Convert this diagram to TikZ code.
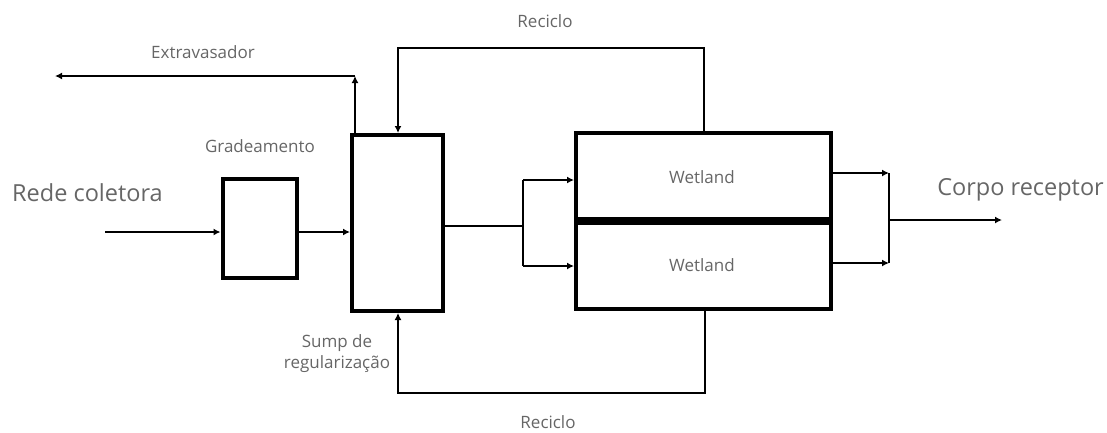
\documentclass[tikz,border=0pt]{standalone}
\usepackage{fontspec}
\setmainfont{Open Sans}
\usetikzlibrary{arrows.meta}
\begin{document}
\begin{tikzpicture}[x=1pt,y=-1pt,
  box/.style={draw,line width=4pt,minimum width=0pt,minimum height=0pt,inner sep=0pt},
  conn/.style={line width=2.2pt},
  arr/.style={conn,-{Latex[length=7pt,width=7pt]}},
  lbl/.style={text=black!60,font=\fontsize{17}{21}\selectfont,inner sep=0pt},
  big/.style={text=black!60,font=\fontsize{23.5}{28}\selectfont,inner sep=0pt}]
\useasboundingbox (0,0) rectangle (1107,432);
% boxes
\node[box,minimum width=74pt,minimum height=99pt] (grade) at (259.5,228.5) {};
\node[box,minimum width=91pt,minimum height=176pt] (sump) at (397.5,223) {};
\node[box,minimum width=255pt,minimum height=176pt] (wet) at (703.5,221) {};
\draw[line width=8.5pt] (wet.west) -- (wet.east);
% labels
\node[big,anchor=west] (rede) at (12,193) {Rede coletora};
\node[big,anchor=east] (corpo) at (1104,190) {Corpo receptor};
\node[lbl] (lgrade) at (260,146) {Gradeamento};
\node[lbl] (lextra) at (203,52) {Extravasador};
\node[lbl] (lrec1) at (545,21) {Reciclo};
\node[lbl] (lrec2) at (548,422) {Reciclo};
\node[lbl,align=center] (lsump) at (337,354) {Sump de\\regularização};
\node[lbl] (w1) at (702,177) {Wetland};
\node[lbl] (w2) at (702,265) {Wetland};
% coordinates
\coordinate (in) at (105,232);
\coordinate (ex1) at (355,76);
\coordinate (ex2) at (55,76);
\coordinate (r1a) at (398,48);
\coordinate (r1b) at (704,48);
\coordinate (sp) at (523,226);
\coordinate (r2a) at (705,393);
\coordinate (r2b) at (398,393);
\coordinate (jo) at (889,220);
\coordinate (out) at (1002,220);
% connectors
\draw[arr] (in) -- (grade.west |- in);
\draw[arr] (grade.east |- in) -- (sump.west |- in);
\draw[arr] (sump.north west -| ex1) -- (ex1);
\draw[arr] (ex1) -- (ex2);
\draw[arr] (wet.north -| r1b) -- (r1b) -- (r1a) -- (sump.north -| r1a);
\draw[conn] (sump.east |- sp) -- (sp);
\draw[arr] (sp |- 0,180) -- (wet.west |- 0,180);
\draw[arr] (sp |- 0,266) -- (wet.west |- 0,266);
\draw[conn] (sp |- 0,180) -- (sp |- 0,266);
\draw[arr] (wet.south -| r2a) -- (r2a) -- (r2b) -- (sump.south -| r2b);
\draw[arr] (wet.east |- 0,173) -- (jo |- 0,173);
\draw[arr] (wet.east |- 0,263) -- (jo |- 0,263);
\draw[conn] (jo |- 0,173) -- (jo |- 0,263);
\draw[arr] (jo) -- (out);
\end{tikzpicture}
\end{document}
